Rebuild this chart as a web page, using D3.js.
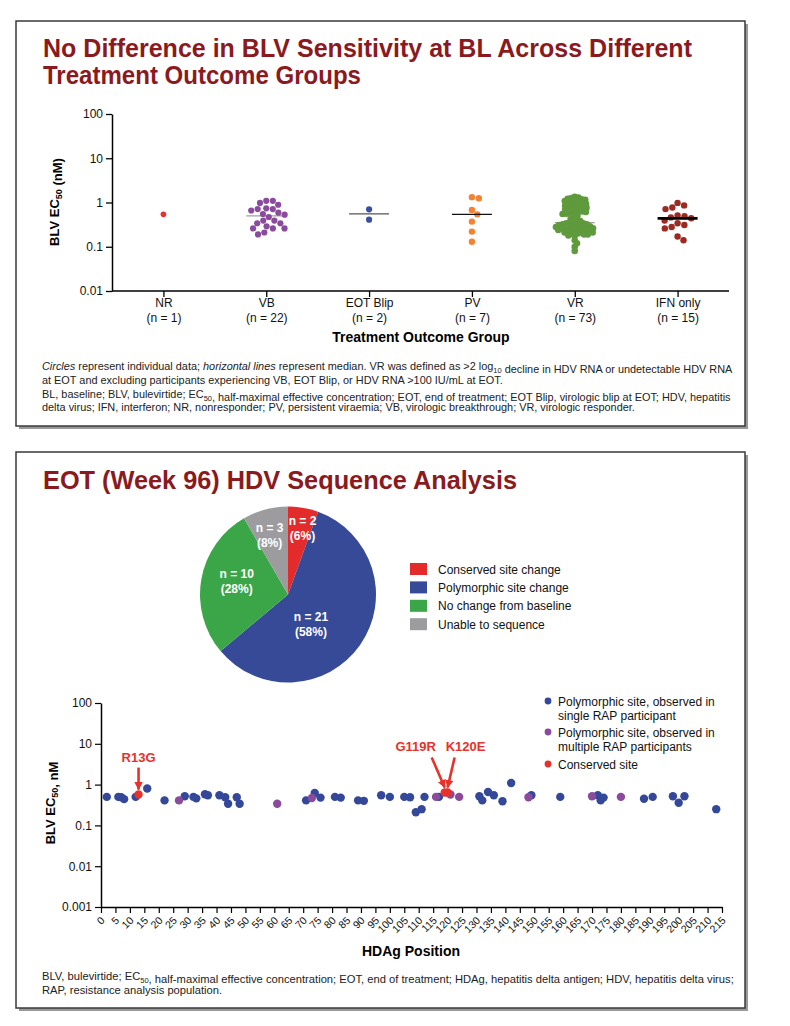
<!DOCTYPE html>
<html>
<head>
<meta charset="utf-8">
<script src="https://cdn.jsdelivr.net/npm/d3@7"></script>
<style>
  body { margin: 0; background: #fff; }
  svg text { font-family: "Liberation Sans", Arial, Helvetica, sans-serif; }
</style>
</head>
<body>
<svg id="chart"></svg>
<script>
// ---- Data: top chart (BLV EC50 at baseline, nM) ----
const groups = ['NR', 'VB', 'EOT Blip', 'PV', 'VR', 'IFN only'];
const nrValues = [0.54];
const vbValues = [1.09, 1.09, 0.98, 0.89, 0.74, 0.71, 0.71, 0.66, 0.59, 0.55, 0.53,
                  0.47, 0.39, 0.39, 0.34, 0.34, 0.29, 0.26, 0.26, 0.26, 0.21, 0.19];
const eotBlipValues = [0.70, 0.41];
const pvValues = [1.32, 1.25, 0.68, 0.54, 0.37, 0.22, 0.13];
const vrValues = [1.35, 1.30, 1.26, 1.22, 1.18, 1.15, 1.11, 1.08, 1.04, 1.01,
                  0.98, 0.95, 0.92, 0.89, 0.86, 0.84, 0.81, 0.78, 0.76, 0.74,
                  0.71, 0.69, 0.67, 0.65, 0.63, 0.61, 0.59, 0.57, 0.56, 0.55,
                  0.50, 0.46, 0.43, 0.40, 0.38, 0.36,
                  0.35,
                  0.34, 0.34, 0.33, 0.32, 0.32, 0.31, 0.30, 0.30, 0.29, 0.29, 0.28,
                  0.28, 0.27, 0.27, 0.26, 0.26, 0.25, 0.25, 0.24, 0.24, 0.23, 0.23,
                  0.22, 0.22, 0.21, 0.21, 0.20, 0.20, 0.19, 0.19, 0.18, 0.18,
                  0.14, 0.12, 0.10, 0.08];
const ifnValues = [0.98, 0.86, 0.77, 0.71, 0.51, 0.49, 0.46, 0.44, 0.39, 0.34, 0.31,
                   0.28, 0.26, 0.17, 0.14];
const topTicks = [0.01, 0.1, 1, 10, 100];

// ---- Data: pie (EOT sequence outcome) ----
const pieLabels = ['Conserved site change', 'Polymorphic site change', 'No change from baseline', 'Unable to sequence'];
const pieCounts = [2, 21, 10, 3];
const piePercents = ['6%', '58%', '28%', '8%'];

// ---- Data: bottom chart [HDAg position, BLV EC50 nM] ----
const polySingle = [[2, 0.50], [6, 0.50], [7, 0.49], [8, 0.44], [12, 0.50], [16, 0.80], [22, 0.41],
  [29, 0.52], [32, 0.50], [33, 0.46], [36, 0.58], [37, 0.55], [41, 0.55], [43, 0.49], [44, 0.34],
  [47, 0.49], [48, 0.34], [71, 0.41], [74, 0.62], [76, 0.48], [81, 0.50], [83, 0.48], [89, 0.41],
  [91, 0.40], [97, 0.55], [100, 0.50], [105, 0.50], [107, 0.49], [109, 0.21], [111, 0.25],
  [112, 0.50], [117, 0.50], [131, 0.52], [132, 0.41], [134, 0.66], [136, 0.55], [139, 0.39],
  [142, 1.09], [149, 0.55], [159, 0.50], [172, 0.55], [173, 0.41], [174, 0.48], [188, 0.45],
  [191, 0.50], [198, 0.52], [200, 0.36], [202, 0.52], [213, 0.25]];
const polyMulti = [[27, 0.41], [61, 0.34], [73, 0.47], [116, 0.50], [121, 0.57], [124, 0.50],
  [148, 0.49], [170, 0.52], [180, 0.50]];
const conserved = [[13, 0.57], [119, 0.64], [120, 0.64]];
const conservedNames = ['R13G', 'G119R', 'K120E'];
const bottomTicks = [0.001, 0.01, 0.1, 1, 10, 100];
const positionTicks = d3.range(0, 216, 5);

// ---- Styling ----
const titleColor = '#8b1a1e';
const groupColors = ['#e8312f', '#8b4b9c', '#3a4fa0', '#f58232', '#5f9a3c', '#9b2a22'];
const pieColors = ['#e42b2b', '#374a97', '#3aa648', '#9c9c9f'];
const siteColors = { single: '#34489a', multi: '#8b4b9c', conserved: '#e8312a' };

const svg = d3.select('#chart').attr('width', 790).attr('height', 1026);

// Panels with a drop shadow
function panel(x, y, w, h) {
  svg.append('rect').attr('x', x + 3).attr('y', y + 3).attr('width', w).attr('height', h)
    .attr('fill', '#999');
  svg.append('rect').attr('x', x).attr('y', y).attr('width', w).attr('height', h)
    .attr('fill', '#fff').attr('stroke', '#3a3a3a').attr('stroke-width', 1.5);
}
panel(16, 21, 729, 405);
panel(16, 452, 729, 556);

// Text helper: parts like [str] or [str, 'i'] or [str, 'sub']
function richText(sel, parts, subSize) {
  parts.forEach(p => {
    const t = sel.append('tspan').text(p[0]);
    if (p[1] === 'i') t.attr('font-style', 'italic');
    if (p[1] === 'sub') {
      t.attr('font-size', subSize).attr('dy', 2.5);
      sel.append('tspan').attr('dy', -2.5).text('');
    }
  });
  return sel;
}

// ---- Titles ----
function title(x, y, str, len) {
  svg.append('text').attr('x', x).attr('y', y).attr('fill', titleColor)
    .attr('font-size', 25).attr('font-weight', 'bold')
    .attr('textLength', len).attr('lengthAdjust', 'spacingAndGlyphs').text(str);
}
title(43, 57, 'No Difference in BLV Sensitivity at BL Across Different', 649);
title(43, 84, 'Treatment Outcome Groups', 318);
title(43, 489, 'EOT (Week 96) HDV Sequence Analysis', 474);

// ================= Top chart =================
const topBox = { left: 112, right: 729, top: 114, bottom: 291 };
const yTop = d3.scaleLog().domain([0.01, 100]).range([topBox.bottom, topBox.top]);
const xTop = d3.scalePoint().domain(groups).range([topBox.left, topBox.right]).padding(0.5);

const topData = [nrValues, vbValues, eotBlipValues, pvValues, vrValues, ifnValues];
const swarmDist = [6, 6.6, 6, 7, 3.7, 7];
const dotR = [2.8, 3.1, 3.1, 3.2, 3.3, 3.2];
const medianStyle = [null, { c: '#a0a0a0', w: 1.2 }, { c: '#555', w: 1.2 }, { c: '#111', w: 1.3 },
  { c: '#a0a0a0', w: 1.2 }, { c: '#000', w: 2.8 }];

// Simple beeswarm: each point gets the nearest horizontal offset that does not collide
function swarm(values, y, minDist) {
  const pts = values.map(v => ({ v, y: y(v) })).sort((a, b) => a.y - b.y);
  const placed = [];
  pts.forEach(p => {
    const cands = [0];
    placed.forEach(q => {
      const dy = Math.abs(q.y - p.y);
      if (dy < minDist) {
        const dx = Math.sqrt(minDist * minDist - dy * dy);
        cands.push(q.dx + dx, q.dx - dx);
      }
    });
    cands.sort((a, b) => Math.abs(a) - Math.abs(b));
    p.dx = cands.find(c => placed.every(q => Math.hypot(q.dx - c, q.y - p.y) >= minDist - 1e-6));
    placed.push(p);
  });
  return placed;
}

const topG = svg.append('g');

// median lines
groups.forEach((g, i) => {
  const ms = medianStyle[i];
  if (!ms) return;
  const m = d3.median(topData[i]);
  topG.append('line')
    .attr('class', i === 5 || i === 3 ? 'front' : 'back')
    .attr('x1', xTop(g) - 20).attr('x2', xTop(g) + 20)
    .attr('y1', yTop(m)).attr('y2', yTop(m))
    .attr('stroke', ms.c).attr('stroke-width', ms.w);
});

groups.forEach((g, i) => {
  topG.append('g').selectAll('circle')
    .data(swarm(topData[i], yTop, swarmDist[i]))
    .join('circle')
    .attr('cx', d => xTop(g) + d.dx)
    .attr('cy', d => d.y)
    .attr('r', dotR[i])
    .attr('fill', groupColors[i]);
});
topG.selectAll('line.front').raise();

const yAxisTop = d3.axisLeft(yTop).tickValues(topTicks).tickFormat(d3.format('~g'))
  .tickSize(6).tickSizeOuter(0).tickPadding(3);
const yAxG = svg.append('g').attr('transform', `translate(${topBox.left},0)`).call(yAxisTop);
yAxG.selectAll('text').attr('font-size', 12).attr('fill', '#111');

const xAxisTop = d3.axisBottom(xTop).tickSize(6).tickSizeOuter(0).tickPadding(3);
const xAxG = svg.append('g').attr('transform', `translate(0,${topBox.bottom})`).call(xAxisTop);
xAxG.select('.domain').attr('d', `M${topBox.left},0H${topBox.right}`);
xAxG.selectAll('.tick text').each(function (d, i) {
  const t = d3.select(this).text('').attr('font-size', 12).attr('fill', '#111');
  t.append('tspan').attr('x', 0).attr('dy', '0.6em').text(d);
  t.append('tspan').attr('x', 0).attr('dy', '1.25em').text(`(n = ${topData[i].length})`);
});
[yAxG, xAxG].forEach(a => {
  a.select('.domain').attr('stroke', '#000').attr('stroke-width', 1.5);
  a.selectAll('.tick line').attr('stroke', '#000').attr('stroke-width', 1.3);
});

svg.append('text').attr('x', 421).attr('y', 342).attr('text-anchor', 'middle')
  .attr('font-size', 14).attr('font-weight', 'bold').text('Treatment Outcome Group');
richText(svg.append('text')
  .attr('transform', 'translate(59,202) rotate(-90)').attr('text-anchor', 'middle')
  .attr('font-size', 13).attr('font-weight', 'bold'),
  [['BLV EC'], ['50', 'sub'], [' (nM)']], 9);

// footnote (top)
const foot1 = [
  [['Circles', 'i'], [' represent individual data; '], ['horizontal lines', 'i'],
   [' represent median. VR was defined as >2 log'], ['10', 'sub'], [' decline in HDV RNA or undetectable HDV RNA']],
  [['at EOT and excluding participants experiencing VB, EOT Blip, or HDV RNA >100 IU/mL at EOT.']],
  [['BL, baseline; BLV, bulevirtide; EC'], ['50', 'sub'],
   [', half-maximal effective concentration; EOT, end of treatment; EOT Blip, virologic blip at EOT; HDV, hepatitis']],
  [['delta virus; IFN, interferon; NR, nonresponder; PV, persistent viraemia; VB, virologic breakthrough; VR, virologic responder.']]
];
const footY1 = [370, 384, 398, 411];
foot1.forEach((parts, i) => {
  richText(svg.append('text').attr('x', 42).attr('y', footY1[i]).attr('font-size', 10.9).attr('fill', '#222'),
    parts, 7.5);
});

// ================= Pie =================
const pieCenter = [288, 594.5];
const pieR = 88;
const pie = d3.pie().sort(null).value(d => d)(pieCounts);
const arc = d3.arc().innerRadius(0).outerRadius(pieR);
const pieG = svg.append('g').attr('transform', `translate(${pieCenter})`);
pieG.selectAll('path').data(pie).join('path')
  .attr('d', arc).attr('fill', (d, i) => pieColors[i]);

// label placement: radius and small angular nudge per slice
const labelPos = [{ r: 68, a: 0.04 }, { r: 37, a: 0.29 }, { r: 53, a: 0.08 }, { r: 62, a: -0.04 }];
pie.forEach((d, i) => {
  const ang = (d.startAngle + d.endAngle) / 2 + labelPos[i].a;
  const cx = Math.sin(ang) * labelPos[i].r;
  const cy = -Math.cos(ang) * labelPos[i].r;
  const t = pieG.append('text').attr('text-anchor', 'middle').attr('fill', '#fff')
    .attr('font-size', 12).attr('font-weight', 'bold');
  t.append('tspan').attr('x', cx).attr('y', cy - 3).text(`n = ${pieCounts[i]}`);
  t.append('tspan').attr('x', cx).attr('y', cy + 12).text(`(${piePercents[i]})`);
});

const pieLeg = svg.append('g').attr('transform', 'translate(410,569)');
pieLabels.forEach((lab, i) => {
  const row = pieLeg.append('g').attr('transform', `translate(0,${i * 18.4})`);
  row.append('rect').attr('x', 0).attr('y', -6).attr('width', 17).attr('height', 12).attr('fill', pieColors[i]);
  row.append('text').attr('x', 28).attr('y', 4.5).attr('font-size', 12).attr('fill', '#111').text(lab);
});

// ================= Bottom chart =================
const botBox = { left: 101, right: 722, top: 703, bottom: 907 };
const xBot = d3.scaleLinear().domain([0, 215]).range([botBox.left, botBox.right]);
const yBot = d3.scaleLog().domain([0.001, 100]).range([botBox.bottom, botBox.top]);

const yAxisBot = d3.axisLeft(yBot).tickValues(bottomTicks).tickFormat(d3.format('~g'))
  .tickSize(6).tickSizeOuter(0).tickPadding(3);
const yAxB = svg.append('g').attr('transform', `translate(${botBox.left},0)`).call(yAxisBot);
yAxB.selectAll('text').attr('font-size', 12).attr('fill', '#111');

const xAxisBot = d3.axisBottom(xBot).tickValues(positionTicks).tickFormat(d3.format('d'))
  .tickSize(6).tickSizeOuter(0);
const xAxB = svg.append('g').attr('transform', `translate(0,${botBox.bottom})`).call(xAxisBot);
xAxB.selectAll('.tick text')
  .attr('font-size', 10.5).attr('fill', '#111')
  .attr('text-anchor', 'end').attr('dy', null).attr('y', 0)
  .attr('transform', 'translate(4,14) rotate(-45)');
[yAxB, xAxB].forEach(a => {
  a.select('.domain').attr('stroke', '#000').attr('stroke-width', 1.5);
  a.selectAll('.tick line').attr('stroke', '#000').attr('stroke-width', 1.2);
});

const dotsB = svg.append('g');
[[polySingle, siteColors.single], [polyMulti, siteColors.multi], [conserved, siteColors.conserved]]
  .forEach(([arr, col]) => {
    dotsB.append('g').selectAll('circle').data(arr).join('circle')
      .attr('cx', d => xBot(d[0])).attr('cy', d => yBot(d[1]))
      .attr('r', 4.2).attr('fill', col);
  });

svg.append('text').attr('x', 411).attr('y', 956).attr('text-anchor', 'middle')
  .attr('font-size', 14).attr('font-weight', 'bold').text('HDAg Position');
richText(svg.append('text')
  .attr('transform', 'translate(55,803) rotate(-90)').attr('text-anchor', 'middle')
  .attr('font-size', 13).attr('font-weight', 'bold'),
  [['BLV EC'], ['50', 'sub'], [', nM']], 9);

// conserved-site annotations with arrows
svg.append('defs').append('marker')
  .attr('id', 'arrowhead').attr('viewBox', '0 0 10 10').attr('refX', 9).attr('refY', 5)
  .attr('markerWidth', 3.2).attr('markerHeight', 3.2).attr('orient', 'auto')
  .append('path').attr('d', 'M0,0L10,5L0,10Z').attr('fill', siteColors.conserved);

const annot = [{ tx: 0, ty: -28, sx: 0, sy: -22 }, { tx: -29, ty: -37, sx: -13, sy: -30 }, { tx: 18, ty: -37, sx: 7, sy: -30 }];
conserved.forEach((d, i) => {
  const px = xBot(d[0]), py = yBot(d[1]) - 5;
  const a = annot[i];
  svg.append('text').attr('x', px + a.tx).attr('y', py + a.ty).attr('text-anchor', 'middle')
    .attr('font-size', 13).attr('font-weight', 'bold').attr('fill', siteColors.conserved)
    .text(conservedNames[i]);
  svg.append('line').attr('x1', px + a.sx).attr('y1', py + a.sy).attr('x2', px).attr('y2', py)
    .attr('stroke', siteColors.conserved).attr('stroke-width', 2.6)
    .attr('marker-end', 'url(#arrowhead)');
});

// legend (bottom chart)
const siteLegend = [
  { c: siteColors.single, lines: ['Polymorphic site, observed in', 'single RAP participant'] },
  { c: siteColors.multi, lines: ['Polymorphic site, observed in', 'multiple RAP participants'] },
  { c: siteColors.conserved, lines: ['Conserved site'] }
];
const legY = [701, 732, 764];
siteLegend.forEach((L, i) => {
  svg.append('circle').attr('cx', 548).attr('cy', legY[i]).attr('r', 3.4).attr('fill', L.c);
  L.lines.forEach((s, j) => {
    svg.append('text').attr('x', 558).attr('y', legY[i] + 5 + j * 14).attr('font-size', 12)
      .attr('fill', '#111').text(s);
  });
});

// footnote (bottom)
const foot2 = [
  [['BLV, bulevirtide; EC'], ['50', 'sub'],
   [', half-maximal effective concentration; EOT, end of treatment; HDAg, hepatitis delta antigen; HDV, hepatitis delta virus;']],
  [['RAP, resistance analysis population.']]
];
[980, 994].forEach((y, i) => {
  richText(svg.append('text').attr('x', 42).attr('y', y).attr('font-size', 11.2).attr('fill', '#222'),
    foot2[i], 7.5);
});
</script>
</body>
</html>
